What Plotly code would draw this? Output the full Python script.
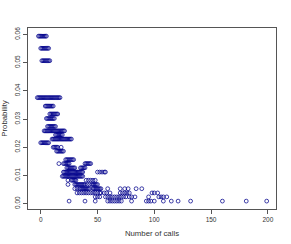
import plotly.graph_objects as go

# Probability levels (y) and the "number of calls" values (x) observed at each level
prob_levels = [0.0594, 0.0551, 0.0507, 0.0376, 0.0346, 0.0318, 0.0302, 0.0274,
               0.0258, 0.0244, 0.0229, 0.0216, 0.0200, 0.0186, 0.0156, 0.0142,
               0.0127, 0.0112, 0.0097, 0.0083, 0.0068, 0.0053, 0.0038, 0.0024, 0.0009]

calls_l01 = [-2, -1, 0, 1, 2, 3, 4, 5]
calls_l02 = [0, 1, 2, 3, 4, 5, 6, 7]
calls_l03 = [1, 2, 3, 4, 5, 6, 7, 8]
calls_l04 = [-3, -2, -1, 0, 1, 2, 3, 4, 5, 6, 7, 8, 9, 10, 11, 12, 13, 14, 15, 16, 17]
calls_l05 = [4, 5, 6, 7, 8, 9, 10, 11]
calls_l06 = [8, 9, 10, 11, 12, 13, 14, 15]
calls_l07 = [5, 6, 7, 8, 9, 10, 11, 12]
calls_l08 = [6, 7, 8, 9, 10, 11, 12, 13]
calls_l09 = [3, 4, 5, 6, 7, 8, 9, 10, 11, 12, 13, 14, 15, 16, 17, 18, 19, 20, 21]
calls_l10 = [13, 14, 15, 16, 17, 18, 19]
calls_l11 = [10, 11, 12, 13, 14, 15, 16, 17, 18, 19, 20, 21, 22, 23, 24, 25, 26, 27]
calls_l12 = [0, 1, 2, 3, 4, 5, 6, 7]
calls_l13 = [11, 12, 13, 14, 15, 18]
calls_l14 = [14, 15, 16, 17, 18, 19, 20]
calls_l15 = [22, 23, 24, 25, 26, 27, 28, 29]
calls_l16 = [16, 20, 21, 22, 23, 24, 25, 39, 40, 41, 42, 43, 44]
calls_l17 = [23, 24, 25, 26, 27, 28, 29, 30, 35, 36, 37, 38, 39]
calls_l18 = [20, 21, 22, 23, 24, 25, 26, 27, 28, 29, 30, 31, 32, 33, 34, 35, 36, 37,
             50, 52, 54, 56, 57]
calls_l19 = [19, 20, 21, 22, 23, 24, 25, 26, 27, 28, 29, 30, 31, 32, 33, 34, 35, 36, 37]
calls_l20 = [24, 27, 28, 29, 30, 31, 40, 42, 44, 46, 48]
calls_l21 = [24, 30, 31, 32, 33, 34, 35, 36, 37, 38, 39, 41, 43, 45, 46, 47, 48, 49, 50]
calls_l22 = [30, 32, 34, 35, 36, 37, 38, 39, 40, 41, 42, 43, 46, 47, 48, 49, 50, 51,
             52, 53, 59, 70, 74, 77, 84, 89]
calls_l23 = [32, 34, 36, 38, 40, 42, 44, 46, 48, 50, 52, 53, 56, 58, 61, 70, 72, 74,
             76, 78, 98, 100, 103]
calls_l24 = [48, 50, 52, 57, 59, 61, 63, 65, 67, 69, 71, 73, 75, 78, 80, 83, 95,
             104, 106, 108, 111]
calls_l25 = [25, 39, 48, 59, 61, 63, 65, 67, 69, 71, 80, 93, 95, 97, 100, 108, 115,
             121, 132, 160, 181, 199]

calls_by_level = [calls_l01, calls_l02, calls_l03, calls_l04, calls_l05, calls_l06,
                  calls_l07, calls_l08, calls_l09, calls_l10, calls_l11, calls_l12,
                  calls_l13, calls_l14, calls_l15, calls_l16, calls_l17, calls_l18,
                  calls_l19, calls_l20, calls_l21, calls_l22, calls_l23, calls_l24,
                  calls_l25]

x_tick_vals = [0, 50, 100, 150, 200]
y_tick_vals = [0.00, 0.01, 0.02, 0.03, 0.04, 0.05, 0.06]
y_tick_text = ["0.00", "0.01", "0.02", "0.03", "0.04", "0.05", "0.06"]

xs, ys = [], []
for p, calls in zip(prob_levels, calls_by_level):
    for c in calls:
        xs.append(c)
        ys.append(p)

fig = go.Figure()
fig.add_trace(go.Scatter(
    x=xs, y=ys, mode="markers",
    marker=dict(symbol="circle-open", size=3.8, color="#00008B",
                line=dict(width=0.75, color="#00008B")),
    showlegend=False, hoverinfo="skip",
))

font_fam = "Liberation Sans, Arial, Helvetica, sans-serif"
axis_color = "#555555"
text_color = "#333333"

fig.update_layout(
    width=291, height=244,
    margin=dict(l=28, r=15, t=28, b=35),
    paper_bgcolor="white", plot_bgcolor="white",
    font=dict(family=font_fam, size=6, color=text_color),
)
fig.update_xaxes(
    range=[-11.2, 207.2], tickvals=x_tick_vals, automargin=False,
    showgrid=False, zeroline=False,
    showline=True, mirror=True, linecolor=axis_color, linewidth=1,
    ticks="outside", ticklen=4, tickcolor=axis_color, tickwidth=1,
    tickfont=dict(size=6.5, color=text_color),
    title=dict(text="Number of calls", font=dict(size=7.8, color=text_color), standoff=8),
)
fig.update_yaxes(
    range=[-0.0019, 0.0623], tickvals=y_tick_vals, ticktext=y_tick_text, automargin=False,
    showgrid=False, zeroline=False,
    showline=True, mirror=True, linecolor=axis_color, linewidth=1,
    ticks="outside", ticklen=4, tickcolor=axis_color, tickwidth=1,
    tickangle=-90,
    tickfont=dict(size=6.5, color=text_color),
    title=dict(text="Probability", font=dict(size=7.8, color=text_color), standoff=5),
)

fig.write_html("out.html", config={"displayModeBar": False},
               post_script="document.body.style.margin='0';")
